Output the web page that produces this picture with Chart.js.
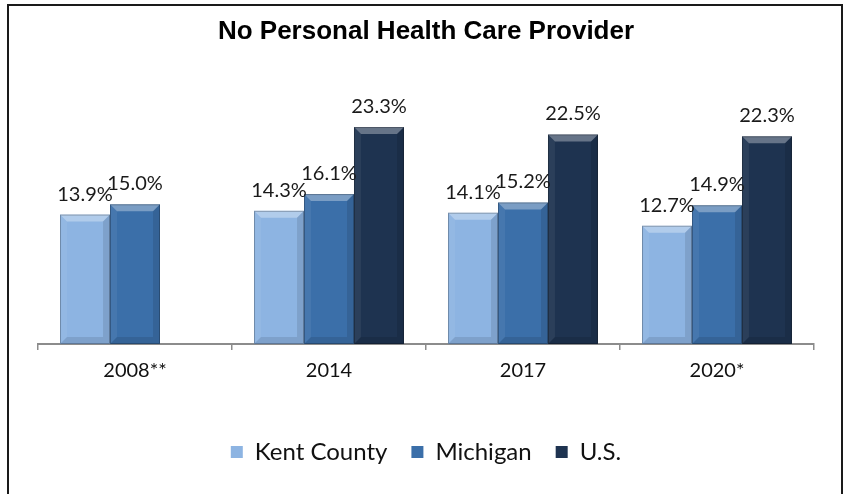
<!DOCTYPE html>
<html>
<head>
<meta charset="utf-8">
<script src="https://cdn.jsdelivr.net/npm/chart.js@4.4.1/dist/chart.umd.min.js"></script>
<style>
  html, body { margin: 0; padding: 0; background: #fff; }
  #wrap { position: relative; width: 843px; height: 494px; overflow: hidden; }
  #frame { position: absolute; left: 7px; top: 4px; width: 836px; height: 500px; border: 2px solid #1a1a1a; box-sizing: border-box; pointer-events: none; }
  canvas { position: absolute; left: 0; top: 0; }
</style>
</head>
<body>
<div id="wrap">
  <canvas id="c" width="843" height="494"></canvas>
  <div id="frame"></div>
</div>
<script>
const categories = ['2008**', '2014', '2017', '2020*'];
const seriesNames = ['Kent County', 'Michigan', 'U.S.'];
const kentCounty = [13.9, 14.3, 14.1, 12.7];
const michigan = [15.0, 16.1, 15.2, 14.9];
const us = [null, 23.3, 22.5, 22.3];
const chartTitle = 'No Personal Health Care Provider';

const colors = ['#8DB4E2', '#3B6FA9', '#1E3350'];

const bevelPlugin = {
  id: 'bevel',
  afterDatasetsDraw(chart) {
    const ctx = chart.ctx;
    chart.data.datasets.forEach((ds, di) => {
      const meta = chart.getDatasetMeta(di);
      meta.data.forEach((el, i) => {
        if (ds.data[i] == null) return;
        const p = el.getProps(['x', 'y', 'base', 'width'], true);
        const l = p.x - p.width / 2, r = p.x + p.width / 2, t = p.y, b = p.base;
        const k = 7;
        ctx.save();
        const poly = (pts, fill) => {
          ctx.beginPath();
          ctx.moveTo(pts[0][0], pts[0][1]);
          for (let j = 1; j < pts.length; j++) ctx.lineTo(pts[j][0], pts[j][1]);
          ctx.closePath();
          ctx.fillStyle = fill;
          ctx.fill();
        };
        poly([[l, t], [r, t], [r - k, t + k], [l + k, t + k]], 'rgba(255,255,255,0.32)');
        poly([[l, b], [r, b], [r - k, b - k], [l + k, b - k]], 'rgba(0,0,0,0.10)');
        poly([[l, t], [l + k, t + k], [l + k, b - k], [l, b]], 'rgba(255,255,255,0.06)');
        poly([[r, t], [r - k, t + k], [r - k, b - k], [r, b]], 'rgba(0,0,0,0.10)');
        ctx.strokeStyle = 'rgba(0,0,0,0.25)';
        ctx.lineWidth = 1;
        ctx.strokeRect(l + 0.5, t + 0.5, p.width - 1, b - t - 1);
        ctx.restore();
      });
    });
  }
};

const valueLabelPlugin = {
  id: 'valueLabels',
  afterDatasetsDraw(chart) {
    const ctx = chart.ctx;
    ctx.save();
    ctx.font = '20px Lato';
    ctx.fillStyle = '#1a1a1a';
    ctx.textAlign = 'center';
    ctx.textBaseline = 'alphabetic';
    chart.data.datasets.forEach((ds, di) => {
      const meta = chart.getDatasetMeta(di);
      meta.data.forEach((el, i) => {
        const v = ds.data[i];
        if (v == null) return;
        ctx.fillText(v.toFixed(1) + '%', el.x, el.y - 14);
      });
    });
    ctx.restore();
  }
};

new Chart(document.getElementById('c'), {
  type: 'bar',
  data: {
    labels: categories,
    datasets: [
      { label: seriesNames[0], data: kentCounty, backgroundColor: colors[0] },
      { label: seriesNames[1], data: michigan, backgroundColor: colors[1] },
      { label: seriesNames[2], data: us, backgroundColor: colors[2] }
    ]
  },
  options: {
    responsive: false,
    animation: false,
    layout: { padding: { left: 38, right: 29, top: 0, bottom: 20 } },
    datasets: { bar: { categoryPercentage: 0.773, barPercentage: 1.0, borderWidth: 0 } },
    scales: {
      x: {
        grid: { display: true, offset: true, drawOnChartArea: false, drawTicks: true, tickLength: 6, color: '#8c8c8c', lineWidth: 1.5 },
        border: { display: true, color: '#8c8c8c', width: 2 },
        ticks: { color: '#111', font: { family: 'Lato', size: 20 }, padding: 9 },
        afterFit(scale) { scale.height = 72; }
      },
      y: { display: false, min: 0, max: 25 }
    },
    plugins: {
      title: {
        display: true,
        text: chartTitle,
        color: '#000',
        font: { family: 'Liberation Sans', size: 26, weight: 'bold' },
        padding: { top: 16, bottom: 64 }
      },
      legend: {
        display: true,
        position: 'bottom',
        labels: {
          color: '#111',
          font: { family: 'Lato', size: 24 },
          boxWidth: 12,
          boxHeight: 12,
          padding: 24
        }
      },
      tooltip: { enabled: false }
    }
  },
  plugins: [bevelPlugin, valueLabelPlugin]
});
</script>
</body>
</html>
